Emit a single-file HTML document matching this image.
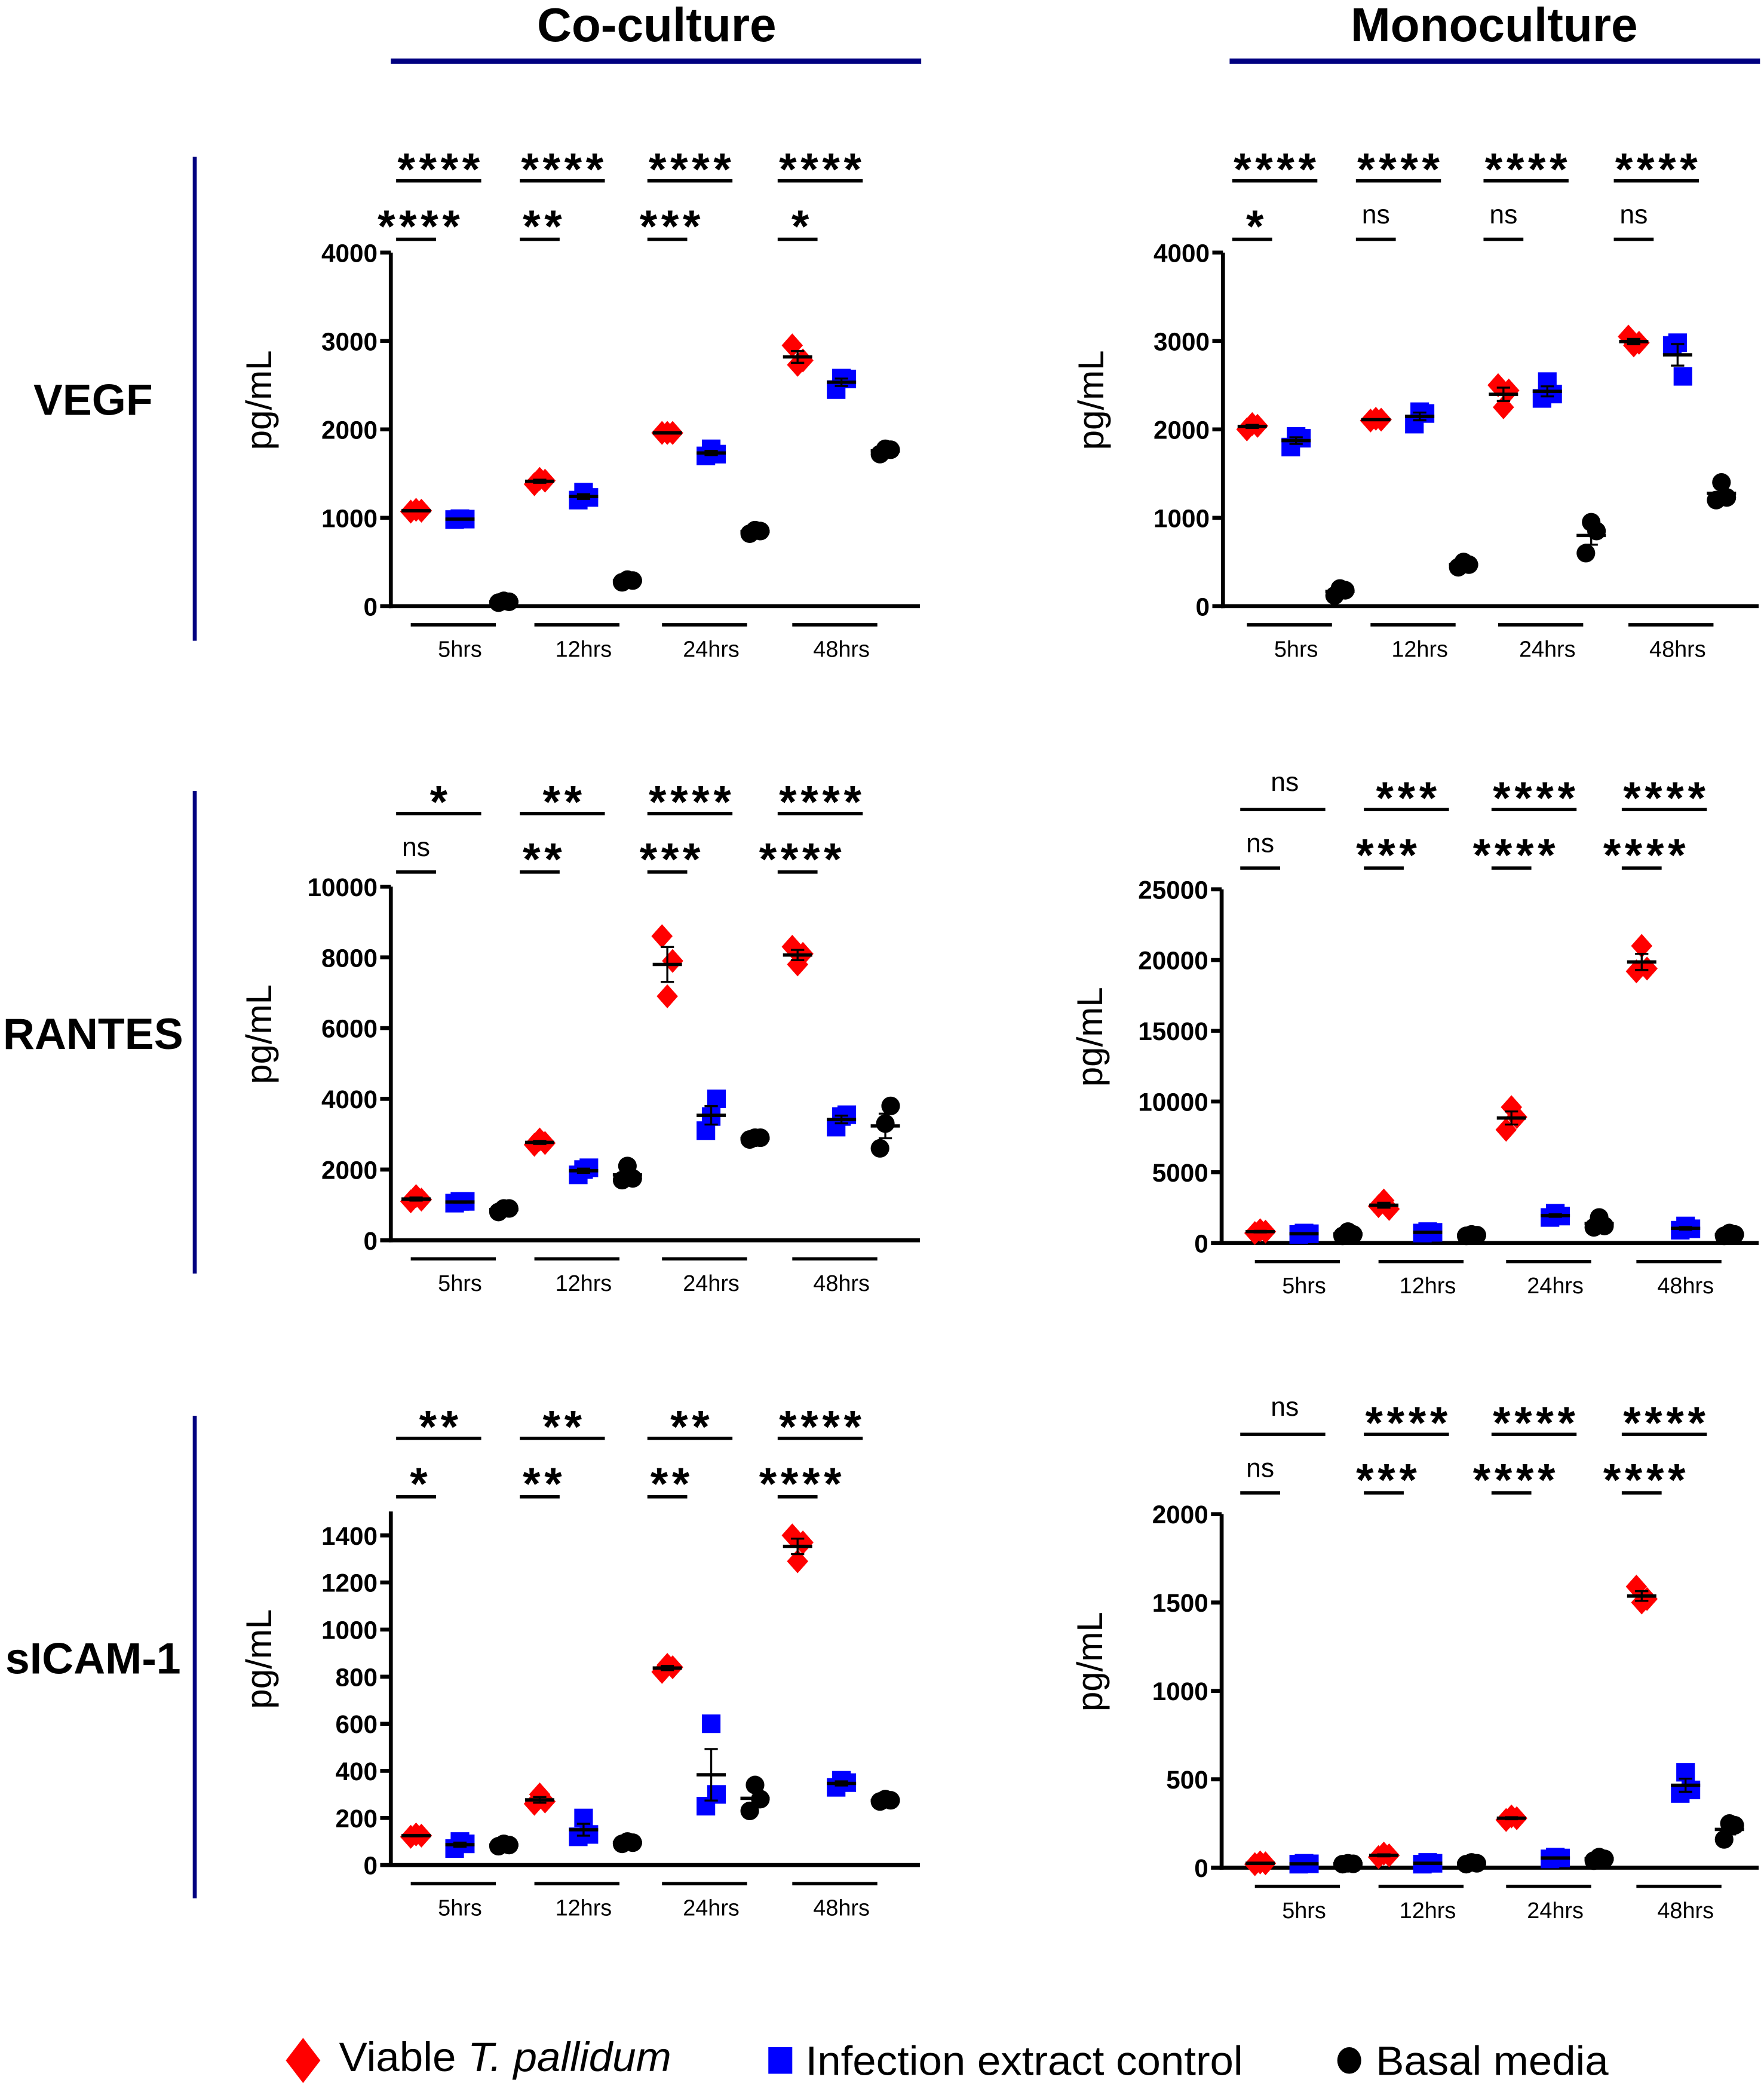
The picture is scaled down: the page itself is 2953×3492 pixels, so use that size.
<!DOCTYPE html>
<html><head><meta charset="utf-8">
<style>
html,body{margin:0;padding:0;background:#fff;}
svg{display:block;}
.tick{font-family:"Liberation Sans Narrow","Liberation Sans",sans-serif;font-weight:bold;font-size:19px;}
.sig{font-family:"Liberation Sans",sans-serif;font-size:34px;font-weight:bold;letter-spacing:3px;}
.ns{font-family:"Liberation Sans",sans-serif;font-size:20px;}
.grp{font-family:"Liberation Sans",sans-serif;font-size:17px;}
.ytitle{font-family:"Liberation Sans",sans-serif;font-size:27px;}
.row{font-family:"Liberation Sans",sans-serif;font-weight:bold;font-size:33px;}
.col{font-family:"Liberation Sans",sans-serif;font-weight:bold;font-size:36px;}
.leg{font-family:"Liberation Sans",sans-serif;font-size:31px;}
</style></head>
<body>
<svg id="fig" width="2953" height="3492" viewBox="0 0 1327 1569.2" xmlns="http://www.w3.org/2000/svg">
<text class="col" x="494" y="31" text-anchor="middle">Co-culture</text>
<rect x="294" y="44" width="399" height="4" fill="#000080"/>
<text class="col" x="1124" y="31" text-anchor="middle">Monoculture</text>
<rect x="925" y="44" width="399" height="4" fill="#000080"/>
<text class="row" x="70" y="312" text-anchor="middle">VEGF</text>
<text class="row" x="70" y="789" text-anchor="middle">RANTES</text>
<text class="row" x="70" y="1259" text-anchor="middle">sICAM-1</text>
<rect x="145" y="118" width="3" height="364" fill="#000080"/>
<rect x="145" y="595" width="3" height="363" fill="#000080"/>
<rect x="145" y="1065" width="3" height="363" fill="#000080"/>
<g>
<path d="M228,1533 L241,1550 L228,1567 L215,1550Z" fill="#ff0000"/>
<text class="leg" x="255" y="1558" textLength="250" lengthAdjust="spacingAndGlyphs">Viable <tspan font-style="italic">T. pallidum</tspan></text>
<rect x="578" y="1540" width="18" height="20" fill="#0000ff"/>
<text class="leg" x="606" y="1561" textLength="329" lengthAdjust="spacingAndGlyphs">Infection extract control</text>
<ellipse cx="1015" cy="1550" rx="9" ry="10" fill="#000"/>
<text class="leg" x="1035" y="1561" textLength="175" lengthAdjust="spacingAndGlyphs">Basal media</text>
</g>
<g id="panels"></g>
</svg>
<script>
// ---- data (pg/mL), each group: [red, blue, black] triplicates ----
const timepoints = ["5hrs","12hrs","24hrs","48hrs"];
const coVegfRed   = [[1070,1090,1080],[1380,1440,1420],[1960,1960,1960],[2950,2730,2780]];
const coVegfBlue  = [[980,990,985],[1200,1290,1230],[1700,1780,1720],[2450,2580,2570]];
const coVegfBlack = [[40,60,50],[270,300,290],[820,860,850],[1720,1780,1770]];
const monoVegfRed   = [[2000,2060,2040],[2100,2120,2110],[2500,2250,2440],[3050,2950,2980]];
const monoVegfBlue  = [[1800,1920,1900],[2060,2200,2180],[2350,2540,2400],[2950,2980,2600]];
const monoVegfBlack = [[120,200,180],[440,500,470],[600,950,850],[1200,1400,1230]];
const coRantesRed   = [[1100,1250,1150],[2700,2850,2750],[8600,6900,7900],[8300,7800,8100]];
const coRantesBlue  = [[1050,1100,1100],[1850,2000,2050],[3100,3500,4000],[3200,3500,3550]];
const coRantesBlack = [[800,900,900],[1700,2100,1750],[2850,2900,2900],[2600,3300,3800]];
const monoRantesRed   = [[700,900,800],[2600,3000,2400],[8000,9600,8900],[19200,21000,19400]];
const monoRantesBlue  = [[600,700,650],[700,800,750],[1800,2100,1900],[900,1200,1000]];
const monoRantesBlack = [[500,800,600],[500,600,550],[1100,1800,1200],[500,700,600]];
const coIcamRed   = [[120,130,125],[260,300,270],[820,850,840],[1400,1290,1370]];
const coIcamBlue  = [[70,100,90],[120,200,130],[250,600,300],[330,360,350]];
const coIcamBlack = [[80,90,85],[90,100,95],[230,340,280],[270,280,275]];
const monoIcamRed   = [[20,30,25],[60,80,70],[270,290,280],[1590,1500,1520]];
const monoIcamBlue  = [[20,25,22],[20,30,25],[50,60,55],[420,540,440]];
const monoIcamBlack = [[20,25,22],[20,30,25],[40,60,50],[160,250,240]];
const vegfTicks = [0,1000,2000,3000,4000];
const coRantesTicks = [0,2000,4000,6000,8000,10000];
const monoRantesTicks = [0,5000,10000,15000,20000,25000];
const coIcamTicks = [0,200,400,600,800,1000,1200,1400];
const monoIcamTicks = [0,500,1000,1500,2000];
const coVegfSigTop = ["****","****","****","****"], coVegfSigLow = ["****","**","***","*"];
const monoVegfSigTop = ["****","****","****","****"], monoVegfSigLow = ["*","ns","ns","ns"];
const coRantesSigTop = ["*","**","****","****"], coRantesSigLow = ["ns","**","***","****"];
const monoRantesSigTop = ["ns","***","****","****"], monoRantesSigLow = ["ns","***","****","****"];
const coIcamSigTop = ["**","**","**","****"], coIcamSigLow = ["*","**","**","****"];
const monoIcamSigTop = ["ns","****","****","****"], monoIcamSigLow = ["ns","***","****","****"];

const NS="http://www.w3.org/2000/svg";
const root=document.getElementById('panels');
function mk(tag,attrs,parent){const e=document.createElementNS(NS,tag);for(const k in attrs)e.setAttribute(k,attrs[k]);(parent||root).appendChild(e);return e;}

function panel(cfg){
  const g=mk('g',{});
  
  
  const y=v=>cfg.y0-(v/cfg.ymax)*(cfg.y0-cfg.ytopv);
  const x=i=>cfg.gx[i];
  const ya=mk('line',{x1:cfg.ax,y1:cfg.atop,x2:cfg.ax,y2:cfg.y0+1.5,stroke:'#000','stroke-width':3},g);
  
  
  const xa=mk('line',{x1:cfg.ax-1.5,y1:cfg.y0,x2:cfg.axEnd,y2:cfg.y0,stroke:'#000','stroke-width':3},g);
  
  
  cfg.ticks.forEach(t=>{
    const l=mk('line',{x1:cfg.ax-8,y1:y(t),x2:cfg.ax,y2:y(t),stroke:'#000','stroke-width':3},g);
    
    
    const tx=mk('text',{x:cfg.ax-10,y:y(t)+7,'text-anchor':'end','class':'tick'},g);
    tx.textContent=t;
    
    
  });
  const yt=mk('text',{x:0,y:0,'class':'ytitle','text-anchor':'middle',transform:`translate(${cfg.ax-90},${(cfg.y0+cfg.atop)/2-22}) rotate(-90)`},g);
  yt.textContent='pg/mL';
  
  
  timepoints.forEach((tp,i)=>{
    const c=x(i);
    const b=mk('line',{x1:c-37,y1:cfg.y0+14,x2:c+27,y2:cfg.y0+14,stroke:'#000','stroke-width':2.5},g);
    
    
    const lt=mk('text',{x:c,y:cfg.y0+38,'text-anchor':'middle','class':'grp'},g);
    lt.textContent=tp;
    
    
    const r=c-33;
    const tb=mk('line',{x1:r-15,y1:cfg.sigTopY,x2:r+49,y2:cfg.sigTopY,stroke:'#000','stroke-width':2.5},g);
    
    
    const st=cfg.sigTop[i];
    const tt=mk('text',{x:r+18.5,y:cfg.sigTopY+(st==='ns'?-14:3),'text-anchor':'middle','class':st==='ns'?'ns':'sig'},g);
    tt.textContent=st;
    
    
    const lb=mk('line',{x1:r-15,y1:cfg.sigTopY+44,x2:r+15,y2:cfg.sigTopY+44,stroke:'#000','stroke-width':2.5},g);
    
    
    const sl=cfg.sigLow[i];
    const lt2=mk('text',{x:r+(sl==='ns'?0:3.5),y:cfg.sigTopY+44+(sl==='ns'?-12:2),'text-anchor':'middle','class':sl==='ns'?'ns':'sig'},g);
    lt2.textContent=sl;
    
    
  });
  const series=[[cfg.red,'#ff0000','diamond',-33],[cfg.blue,'#0000ff','square',0],[cfg.black,'#000','circle',33]];
  const jit=[-4,0,4];
  series.forEach(([data,col,shape,dx])=>{
    data.forEach((vals,i)=>{
      const cx=x(i)+dx;
      const m=vals.reduce((a,b)=>a+b,0)/vals.length;
      const sd=Math.sqrt(vals.reduce((a,b)=>a+(b-m)*(b-m),0)/(vals.length-1));
      const se=sd/Math.sqrt(vals.length);
      vals.forEach((v,k)=>{
        const px=cx+jit[k], py=y(v);
        let e;
        if(shape==='diamond') e=mk('path',{d:`M${px},${py-9} L${px+8},${py} L${px},${py+9} L${px-8},${py}Z`,fill:col},g);
        else if(shape==='square') e=mk('rect',{x:px-7,y:py-7,width:14,height:14,fill:col},g);
        else e=mk('circle',{cx:px,cy:py,r:7,fill:col},g);
        
        
      });
      const ml=mk('line',{x1:cx-11,y1:y(m),x2:cx+11,y2:y(m),stroke:'#000','stroke-width':2.5},g);
      
      
      const eb=mk('path',{d:`M${cx},${y(m+se)} L${cx},${y(m-se)} M${cx-5},${y(m+se)} L${cx+5},${y(m+se)} M${cx-5},${y(m-se)} L${cx+5},${y(m-se)}`,stroke:'#000','stroke-width':1.5,fill:'none'},g);
      
      
    });
  });
}
const coG=[346,439,535,633], monoG1=[975,1068,1164,1262], monoG2=[981,1074,1170,1268];
panel({name:'co-vegf-panel',ax:294,axEnd:692,atop:190,y0:456,ytopv:190,ymax:4000,ticks:vegfTicks,gx:coG,sigTopY:136,sigTop:coVegfSigTop,sigLow:coVegfSigLow,red:coVegfRed,blue:coVegfBlue,black:coVegfBlack});
panel({name:'mono-vegf-panel',ax:920,axEnd:1323,atop:190,y0:456,ytopv:190,ymax:4000,ticks:vegfTicks,gx:monoG1,sigTopY:136,sigTop:monoVegfSigTop,sigLow:monoVegfSigLow,red:monoVegfRed,blue:monoVegfBlue,black:monoVegfBlack});
panel({name:'co-rantes-panel',ax:294,axEnd:692,atop:667,y0:933,ytopv:667,ymax:10000,ticks:coRantesTicks,gx:coG,sigTopY:612,sigTop:coRantesSigTop,sigLow:coRantesSigLow,red:coRantesRed,blue:coRantesBlue,black:coRantesBlack});
panel({name:'mono-rantes-panel',ax:919,axEnd:1323,atop:669,y0:935,ytopv:669,ymax:25000,ticks:monoRantesTicks,gx:monoG2,sigTopY:609,sigTop:monoRantesSigTop,sigLow:monoRantesSigLow,red:monoRantesRed,blue:monoRantesBlue,black:monoRantesBlack});
panel({name:'co-sicam-panel',ax:294,axEnd:692,atop:1137,y0:1403,ytopv:1155,ymax:1400,ticks:coIcamTicks,gx:coG,sigTopY:1082,sigTop:coIcamSigTop,sigLow:coIcamSigLow,red:coIcamRed,blue:coIcamBlue,black:coIcamBlack});
panel({name:'mono-sicam-panel',ax:919,axEnd:1323,atop:1139,y0:1405,ytopv:1139,ymax:2000,ticks:monoIcamTicks,gx:monoG2,sigTopY:1079,sigTop:monoIcamSigTop,sigLow:monoIcamSigLow,red:monoIcamRed,blue:monoIcamBlue,black:monoIcamBlack});
</script>
</body></html>
